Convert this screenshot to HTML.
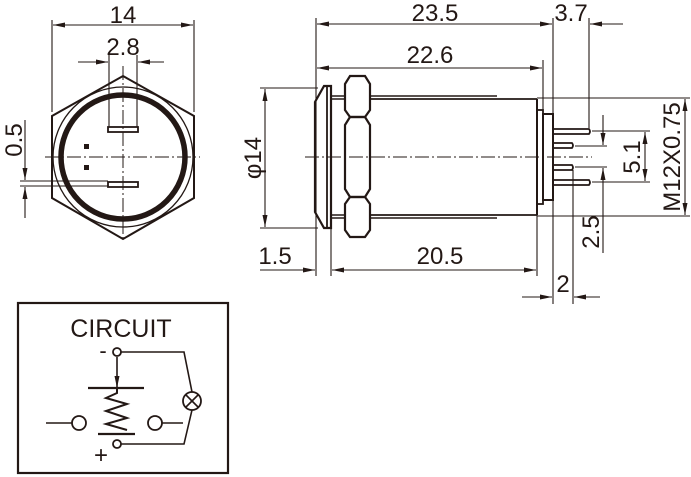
<!DOCTYPE html>
<html><head><meta charset="utf-8"><style>
html,body{margin:0;padding:0;background:#fff;}
svg{display:block;}
text{font-family:"Liberation Sans",Arial,sans-serif;fill:#231815;}
</style></head><body>
<svg width="691" height="477" viewBox="0 0 691 477" xmlns="http://www.w3.org/2000/svg">
<defs>
<marker id="a" viewBox="0 0 12 6" refX="12" refY="3" markerWidth="12" markerHeight="6" orient="auto-start-reverse" markerUnits="userSpaceOnUse"><path d="M0,0.5 L12,3 L0,5.5 z" fill="#231815"/></marker>
</defs>
<g stroke="#231815" fill="none">
<!-- LEFT VIEW -->
<polygon points="123,76 194,116 194,198 123,239 52,198 52,116" stroke-width="2"/>
<circle cx="123" cy="157" r="70" stroke-width="1.3"/>
<circle cx="123" cy="157" r="62" stroke-width="5.5"/>
<rect x="108" y="127" width="30" height="5" stroke-width="1.8"/>
<rect x="108" y="182" width="30" height="5" stroke-width="1.8"/>
<rect x="84" y="144" width="5" height="5" fill="#231815" stroke="none"/>
<rect x="84" y="165" width="5" height="5" fill="#231815" stroke="none"/>
<line x1="45" y1="157" x2="200" y2="157" stroke-width="1" stroke-dasharray="14,3,2,3"/>
<line x1="123" y1="66" x2="123" y2="242" stroke-width="1" stroke-dasharray="14,3,2,3"/>
<line x1="52" y1="20" x2="52" y2="112" stroke-width="1.1"/>
<line x1="194" y1="20" x2="194" y2="112" stroke-width="1.1"/>
<line x1="53" y1="25" x2="193" y2="25" stroke-width="1.1" marker-start="url(#a)" marker-end="url(#a)"/>
<line x1="109" y1="55" x2="109" y2="127" stroke-width="1.1"/>
<line x1="137" y1="55" x2="137" y2="127" stroke-width="1.1"/>
<line x1="78" y1="62" x2="108" y2="62" stroke-width="1.1" marker-end="url(#a)"/>
<line x1="164" y1="62" x2="138" y2="62" stroke-width="1.1" marker-end="url(#a)"/>
<line x1="20" y1="181" x2="108" y2="181" stroke-width="1.1"/>
<line x1="20" y1="186" x2="108" y2="186" stroke-width="1.1"/>
<line x1="25" y1="120" x2="25" y2="180" stroke-width="1.1" marker-end="url(#a)"/>
<line x1="25" y1="218" x2="25" y2="187" stroke-width="1.1" marker-end="url(#a)"/>

<!-- RIGHT VIEW -->
<polygon points="331,86 324,86 315,102 315,212 324,228 331,228" stroke-width="2.2"/>
<line x1="327" y1="86" x2="327" y2="228" stroke-width="1.8"/>
<line x1="331" y1="96" x2="345" y2="96" stroke-width="1.5"/>
<line x1="331" y1="99" x2="345" y2="99" stroke-width="1.5"/>
<line x1="331" y1="215" x2="345" y2="215" stroke-width="1.5"/>
<line x1="331" y1="218" x2="345" y2="218" stroke-width="1.5"/>
<line x1="370" y1="96" x2="497" y2="96" stroke-width="1.5"/>
<line x1="370" y1="99" x2="537" y2="99" stroke-width="1.8"/>
<line x1="370" y1="215" x2="537" y2="215" stroke-width="1.8"/>
<line x1="370" y1="218" x2="497" y2="218" stroke-width="1.5"/>
<line x1="537" y1="99" x2="537" y2="215" stroke-width="2"/>
<path d="M350,76 L365,76 L370,84 L370,110 L365,117 L350,117 L345,110 L345,84 Z" stroke-width="2.2"/>
<path d="M350,117 L365,117 L370,125 L370,189 L365,197 L350,197 L345,189 L345,125 Z" stroke-width="2.2"/>
<path d="M350,197 L365,197 L370,204 L370,230 L365,237 L350,237 L345,230 L345,204 Z" stroke-width="2.2"/>
<rect x="537" y="110" width="6" height="94" stroke-width="1.8"/>
<rect x="543" y="114" width="10" height="86" stroke-width="2"/>
<path d="M553,129 L589,129 Q591,131.5 589,134 L553,134" stroke-width="1.8"/>
<path d="M553,180 L589,180 Q591,182.5 589,185 L553,185" stroke-width="1.8"/>
<path d="M553,143 L572,143 Q574,145.5 572,148 L553,148" stroke-width="1.8"/>
<path d="M553,165 L572,165 Q574,167.5 572,170 L553,170" stroke-width="1.8"/>
<line x1="305" y1="157" x2="592" y2="157" stroke-width="1" stroke-dasharray="14,3,2,3"/>
<line x1="316" y1="18" x2="316" y2="276" stroke-width="1.1"/>
<line x1="553" y1="18" x2="553" y2="114" stroke-width="1.1"/>
<line x1="553" y1="200" x2="553" y2="304" stroke-width="1.1"/>
<line x1="543" y1="60" x2="543" y2="110" stroke-width="1.1"/>
<line x1="589" y1="18" x2="589" y2="128" stroke-width="1.1"/>
<line x1="317" y1="24" x2="552" y2="24" stroke-width="1.1" marker-start="url(#a)" marker-end="url(#a)"/>
<line x1="623" y1="24" x2="590" y2="24" stroke-width="1.1" marker-end="url(#a)"/>
<line x1="317" y1="68" x2="542" y2="68" stroke-width="1.1" marker-start="url(#a)" marker-end="url(#a)"/>
<line x1="260" y1="88" x2="318" y2="88" stroke-width="1.1"/>
<line x1="260" y1="228" x2="318" y2="228" stroke-width="1.1"/>
<line x1="265" y1="89" x2="265" y2="227" stroke-width="1.1" marker-start="url(#a)" marker-end="url(#a)"/>
<line x1="331" y1="228" x2="331" y2="276" stroke-width="1.1"/>
<line x1="537" y1="215" x2="537" y2="276" stroke-width="1.1"/>
<line x1="260" y1="270" x2="315" y2="270" stroke-width="1.1" marker-end="url(#a)"/>
<line x1="332" y1="270" x2="536" y2="270" stroke-width="1.1" marker-start="url(#a)" marker-end="url(#a)"/>
<line x1="573" y1="170" x2="573" y2="304" stroke-width="1.1"/>
<line x1="522" y1="297" x2="552" y2="297" stroke-width="1.1" marker-end="url(#a)"/>
<line x1="600" y1="297" x2="574" y2="297" stroke-width="1.1" marker-end="url(#a)"/>
<line x1="575" y1="146" x2="607" y2="146" stroke-width="1.1"/>
<line x1="575" y1="167" x2="607" y2="167" stroke-width="1.1"/>
<line x1="603" y1="115" x2="603" y2="145" stroke-width="1.1" marker-end="url(#a)"/>
<line x1="603" y1="253" x2="603" y2="168" stroke-width="1.1" marker-end="url(#a)"/>
<line x1="592" y1="131" x2="650" y2="131" stroke-width="1.1"/>
<line x1="592" y1="182" x2="650" y2="182" stroke-width="1.1"/>
<line x1="645" y1="132" x2="645" y2="181" stroke-width="1.1" marker-start="url(#a)" marker-end="url(#a)"/>
<line x1="537" y1="98" x2="690" y2="98" stroke-width="1.1"/>
<line x1="537" y1="216" x2="690" y2="216" stroke-width="1.1"/>
<line x1="685" y1="99" x2="685" y2="215" stroke-width="1.1" marker-start="url(#a)" marker-end="url(#a)"/>

<!-- CIRCUIT -->
<rect x="18" y="303" width="210" height="170" stroke-width="2.2"/>
<circle cx="117" cy="352" r="4" stroke-width="1.8"/>
<polyline points="121,352 184,352 192,392" stroke-width="1.6"/>
<circle cx="192" cy="401" r="9" stroke-width="1.8"/>
<line x1="186" y1="395" x2="198" y2="407" stroke-width="1.6"/>
<line x1="198" y1="395" x2="186" y2="407" stroke-width="1.6"/>
<polyline points="192,410 184,444 121,444" stroke-width="1.6"/>
<circle cx="117" cy="444" r="4" stroke-width="1.8"/>
<line x1="117" y1="357" x2="117" y2="388" stroke-width="1.6" marker-end="url(#a)"/>
<line x1="88" y1="388" x2="144" y2="388" stroke-width="2.2"/>
<polyline points="117,388 117,393 106,398 127,404 106,411 127,418 106,424 127,430" stroke-width="2"/>
<line x1="98" y1="434" x2="135" y2="434" stroke-width="2.2"/>
<line x1="46" y1="423" x2="72" y2="423" stroke-width="1.6"/>
<circle cx="79" cy="423" r="7" stroke-width="1.8"/>
<circle cx="155" cy="423" r="7" stroke-width="1.8"/>
<line x1="162" y1="423" x2="183" y2="423" stroke-width="1.6"/>
</g>
<g font-size="24">
<text x="123" y="23" text-anchor="middle">14</text>
<text x="123" y="55" text-anchor="middle">2.8</text>
<text transform="translate(22,140) rotate(-90)" text-anchor="middle">0.5</text>
<text x="435" y="21" text-anchor="middle">23.5</text>
<text x="571" y="21" text-anchor="middle">3.7</text>
<text x="430" y="63" text-anchor="middle">22.6</text>
<text transform="translate(261,158) rotate(-90)" text-anchor="middle">φ14</text>
<text x="275" y="264" text-anchor="middle">1.5</text>
<text x="440" y="264" text-anchor="middle">20.5</text>
<text x="563" y="292" text-anchor="middle">2</text>
<text transform="translate(599,232) rotate(-90)" text-anchor="middle">2.5</text>
<text transform="translate(640,157) rotate(-90)" text-anchor="middle">5.1</text>
<text transform="translate(680,157) rotate(-90)" text-anchor="middle">M12X0.75</text>
<text x="121" y="337" text-anchor="middle" font-size="25">CIRCUIT</text>
<text x="103" y="358" text-anchor="middle" font-size="22">-</text>
<text x="101" y="463" text-anchor="middle" font-size="24">+</text>
</g>
</svg>
</body></html>
